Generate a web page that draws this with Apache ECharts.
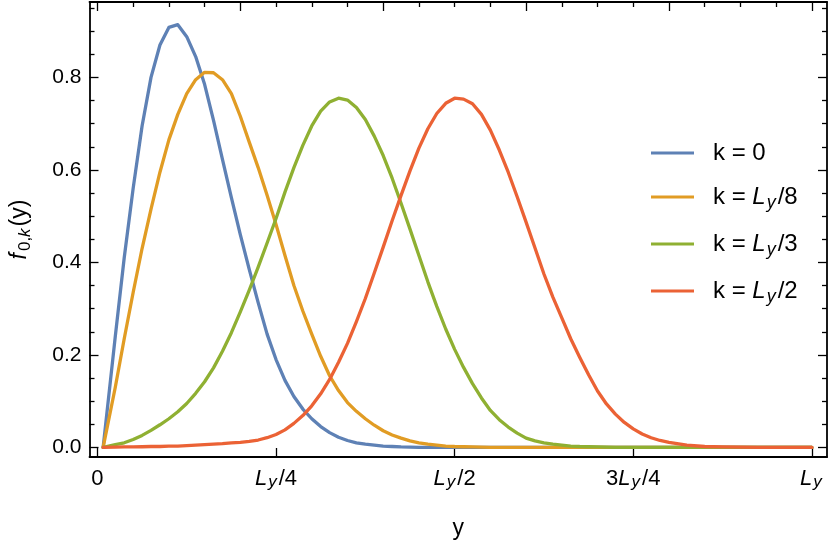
<!DOCTYPE html>
<html><head><meta charset="utf-8">
<script src="https://cdn.jsdelivr.net/npm/echarts@6/dist/echarts.min.js"></script>
<style>html,body{margin:0;padding:0;background:#fff}#c{width:830px;height:545px}</style>
</head><body><div id="c"></div>
<script>
// ---- data (y in units of Ly) ----
const xs = [0.008,
  0.025, 0.0375, 0.05, 0.0625, 0.075, 0.0875, 0.1, 0.1125,
  0.125, 0.1375, 0.15, 0.1625, 0.175, 0.1875, 0.2, 0.2125,
  0.225, 0.2375, 0.25, 0.2625, 0.275, 0.2875, 0.3, 0.3125,
  0.325, 0.3375, 0.35, 0.3625, 0.375, 0.3875, 0.4, 0.4125,
  0.425, 0.4375, 0.45, 0.4625, 0.475, 0.4875, 0.5, 0.5125,
  0.525, 0.5375, 0.55, 0.5625, 0.575, 0.5875, 0.6, 0.6125,
  0.625, 0.6375, 0.65, 0.6625, 0.675, 0.6875, 0.7, 0.7125,
  0.725, 0.7375, 0.75, 0.7625, 0.775, 0.7875, 0.8,
  0.825, 0.85, 0.875, 0.9, 0.925, 0.95, 0.975, 1.0];
const fK0 = [0,
  0.24, 0.41, 0.56, 0.695, 0.80, 0.87, 0.908, 0.914,
  0.888, 0.845, 0.785, 0.707, 0.623, 0.54, 0.46, 0.385,
  0.313, 0.245, 0.19, 0.145, 0.11, 0.083, 0.062, 0.045,
  0.032, 0.022, 0.015, 0.01, 0.007, 0.005, 0.003, 0.002,
  0.001, 0.0005, 0, 0, 0, 0, 0, 0,
  0, 0, 0, 0, 0, 0, 0, 0,
  0, 0, 0, 0, 0, 0, 0, 0,
  0, 0, 0, 0, 0, 0, 0,
  0, 0, 0, 0, 0, 0, 0, 0];
const fK8 = [0,
  0.13, 0.235, 0.335, 0.43, 0.515, 0.595, 0.665, 0.72,
  0.765, 0.795, 0.811, 0.81, 0.795, 0.765, 0.716, 0.66,
  0.605, 0.545, 0.482, 0.415, 0.35, 0.295, 0.245, 0.197,
  0.155, 0.123, 0.097, 0.078, 0.062, 0.048, 0.036, 0.027,
  0.02, 0.014, 0.01, 0.007, 0.005, 0.003, 0.002, 0.0015,
  0.001, 0.0005, 0, 0, 0, 0, 0, 0,
  0, 0, 0, 0, 0, 0, 0, 0,
  0, 0, 0, 0, 0, 0, 0,
  0, 0, 0, 0, 0, 0, 0, 0];
const fK3 = [0,
  0.006, 0.01, 0.017, 0.026, 0.037, 0.049, 0.062, 0.077,
  0.095, 0.117, 0.142, 0.172, 0.208, 0.248, 0.293, 0.34,
  0.39, 0.442, 0.495, 0.552, 0.605, 0.653, 0.695, 0.727,
  0.747, 0.755, 0.751, 0.735, 0.709, 0.673, 0.631, 0.582,
  0.528, 0.472, 0.415, 0.358, 0.305, 0.256, 0.212, 0.173,
  0.138, 0.107, 0.08, 0.06, 0.044, 0.031, 0.02, 0.014,
  0.01, 0.007, 0.005, 0.003, 0.002, 0.0015, 0.001, 0.0005,
  0, 0, 0, 0, 0, 0, 0,
  0, 0, 0, 0, 0, 0, 0, 0];
const fK2 = [0,
  0.0005, 0.001, 0.001, 0.0015, 0.002, 0.002, 0.003, 0.003,
  0.004, 0.005, 0.006, 0.007, 0.008, 0.01, 0.011, 0.013,
  0.016, 0.021, 0.028, 0.038, 0.052, 0.069, 0.09, 0.116,
  0.147, 0.184, 0.225, 0.272, 0.322, 0.377, 0.433, 0.49,
  0.545, 0.598, 0.647, 0.689, 0.722, 0.744, 0.755, 0.753,
  0.743, 0.72, 0.686, 0.643, 0.595, 0.542, 0.487, 0.431,
  0.375, 0.325, 0.28, 0.235, 0.195, 0.157, 0.122, 0.094,
  0.072, 0.054, 0.04, 0.029, 0.021, 0.015, 0.011,
  0.005, 0.002, 0.001, 0.0005, 0, 0, 0, 0];

const seriesNames = ['k = 0', 'k = Ly/8', 'k = Ly/3', 'k = Ly/2'];
const legendLabels = ['{n|k = 0}', '{n|k = }{i|L}{s|y}{n|/8}', '{n|k = }{i|L}{s|y}{n|/3}', '{n|k = }{i|L}{s|y}{n|/2}'];
const xMajorTicks = [0, 0.25, 0.5, 0.75, 1];
const xTickLabels = ['{n|0}', '{i|L}{s|y}{n|/4}', '{i|L}{s|y}{n|/2}', '{n|3}{i|L}{s|y}{n|/4}', '{i|L}{s|y}'];
const xTopMajor = [0, 0.2, 0.4, 0.6, 0.8, 1];
const xTopMinor = [0.05, 0.1, 0.15, 0.25, 0.3, 0.35, 0.45, 0.5, 0.55, 0.65, 0.7, 0.75, 0.85, 0.9, 0.95];
const yMajorTicks = [0, 0.2, 0.4, 0.6, 0.8];
const yTickLabels = ['0.0', '0.2', '0.4', '0.6', '0.8'];
const yMinorTicks = [0.05, 0.1, 0.15, 0.25, 0.3, 0.35, 0.45, 0.5, 0.55, 0.65, 0.7, 0.75, 0.85, 0.9, 0.95];

// ---- style ----
const colors = ['#5E81B5', '#E19C24', '#8FB032', '#EB6235'];
const XMIN = -0.0111, XMAX = 1.0212, YMIN = -0.0207, YMAX = 0.963;
const FONT = '"Liberation Sans", Arial, sans-serif';
const FRAME = {show: true, onZero: false, lineStyle: {color: '#000', width: 1.8}};
const NOLINE = {show: false, onZero: false};
const tickStyle = {color: '#000', width: 1.3};

function tickRich(size, sub, lh, slh) {
  return {
    n: {fontFamily: FONT, fontSize: size, color: '#000', lineHeight: lh},
    i: {fontFamily: FONT, fontSize: size, fontStyle: 'italic', color: '#000', lineHeight: lh},
    s: {fontFamily: FONT, fontSize: sub, fontStyle: 'italic', color: '#000', lineHeight: slh,
        verticalAlign: 'bottom', padding: [0, 2, 0, 1]}
  };
}

function xAx(pos, ticks, len, line, label) {
  return {
    type: 'value', position: pos, min: XMIN, max: XMAX, gridIndex: 0,
    axisLine: line ? FRAME : NOLINE,
    splitLine: {show: false},
    axisTick: {show: true, inside: true, length: len, customValues: ticks, lineStyle: tickStyle},
    axisLabel: label ? {
      show: true, customValues: ticks, margin: 10,
      formatter: v => xTickLabels[xMajorTicks.indexOf(v)],
      rich: tickRich(22, 17, 24, 16)
    } : {show: false},
    name: label ? 'y' : '', nameLocation: 'middle', nameGap: 60,
    nameTextStyle: {fontFamily: FONT, fontSize: 23, color: '#000'}
  };
}
function yAx(pos, ticks, len, line, label) {
  return {
    type: 'value', position: pos, min: YMIN, max: YMAX, gridIndex: 0,
    axisLine: line ? FRAME : NOLINE,
    splitLine: {show: false},
    axisTick: {show: true, inside: true, length: len, customValues: ticks, lineStyle: tickStyle},
    axisLabel: label ? {
      show: true, customValues: ticks, margin: 8,
      formatter: v => yTickLabels[yMajorTicks.indexOf(v)],
      fontFamily: FONT, fontSize: 21, color: '#000'
    } : {show: false},
    name: label ? '{i|f}{s|0,}{si|k}{n|(y)}' : '', nameLocation: 'middle', nameGap: 56, nameRotate: 90,
    nameTextStyle: {
      rich: {
        n: {fontFamily: FONT, fontSize: 23, color: '#000', lineHeight: 28},
        i: {fontFamily: FONT, fontSize: 23, fontStyle: 'italic', color: '#000', lineHeight: 28, padding: [0, 2, 0, 0]},
        s: {fontFamily: FONT, fontSize: 17, color: '#000', lineHeight: 18, verticalAlign: 'bottom'},
        si: {fontFamily: FONT, fontSize: 17, fontStyle: 'italic', color: '#000', lineHeight: 18, verticalAlign: 'bottom', padding: [0, 2, 0, 0]}
      }
    }
  };
}

const seriesData = [fK0, fK8, fK3, fK2];
const chart = echarts.init(document.getElementById('c'), null, {renderer: 'canvas'});
chart.setOption({
  animation: false,
  backgroundColor: '#fff',
  grid: {left: 83, top: 2, width: 744, height: 460, containLabel: false},
  xAxis: [
    xAx('bottom', xMajorTicks, 9, true, true),
    xAx('top', xTopMajor, 9, true, false),
    xAx('top', xTopMinor, 5, false, false)
  ],
  yAxis: [
    yAx('left', yMajorTicks, 9, true, true),
    yAx('left', yMinorTicks, 5, false, false),
    yAx('right', yMajorTicks, 9, true, false),
    yAx('right', yMinorTicks, 5, false, false)
  ],
  legend: {
    data: seriesNames, orient: 'vertical', left: 651, top: 141, padding: 0,
    icon: 'rect', itemWidth: 43, itemHeight: 3, itemGap: 20,
    formatter: name => legendLabels[seriesNames.indexOf(name)],
    textStyle: {
      padding: [0, 0, 0, 14],
      rich: tickRich(24, 18, 30, 20)
    }
  },
  series: seriesData.map((arr, i) => ({
    name: seriesNames[i], type: 'line', xAxisIndex: 0, yAxisIndex: 0,
    data: xs.map((x, j) => [x, arr[j]]),
    showSymbol: false, symbol: 'none', smooth: false,
    lineStyle: {width: 3.3, color: colors[i], join: 'round', cap: 'round'},
    itemStyle: {color: colors[i]},
    z: 2 + i
  }))
});
</script></body></html>
